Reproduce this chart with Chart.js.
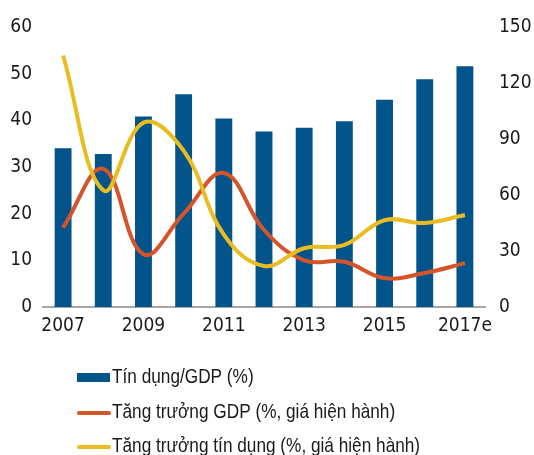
<!DOCTYPE html>
<html>
<head>
<meta charset="utf-8">
<script src="https://cdn.jsdelivr.net/npm/chart.js@4"></script>
<style>
  body { margin: 0; background: #fff; }
  #chart { display: block; }
</style>
</head>
<body>
<canvas id="chart" width="534" height="455"></canvas>
<script>
const years = ["2007", "2008", "2009", "2010", "2011", "2012", "2013", "2014", "2015", "2016", "2017e"];
const creditToGdp = [85, 82, 102, 114, 101, 94, 96, 99.5, 111, 122, 129];
const gdpGrowth = [17, 29.6, 11.3, 20, 28.7, 16.5, 10, 9.7, 6.2, 7.3, 9.4];
const creditGrowth = [53.9, 25, 39.5, 33.5, 15.5, 8.8, 12.6, 13.3, 18.6, 18, 19.7];

const leftTicks = [0, 10, 20, 30, 40, 50, 60];
const rightTicks = [0, 30, 60, 90, 120, 150];

const blue = "#02548b";
const orange = "#d6542a";
const yellow = "#e9bd22";
const textColor = "#1a1a1a";
const tickFont = "'DejaVu Sans Condensed', 'Liberation Sans', sans-serif";
const legendFont = "'Liberation Sans', Arial, sans-serif";

const chartCanvas = document.getElementById("chart");

// legend drawn as a vertical list below the axis (text squeezed like a narrow face)
const stackedLegend = {
  id: "stackedLegend",
  afterDraw(chart) {
    const { ctx } = chart;
    const rows = [377, 412, 446];
    ctx.save();
    chart.data.datasets.forEach((ds, i) => {
      const y = rows[i];
      if (ds.type === "bar") {
        ctx.fillStyle = ds.backgroundColor;
        ctx.fillRect(77, y - 4, 33, 9);
      } else {
        ctx.strokeStyle = ds.borderColor;
        ctx.lineWidth = 4;
        ctx.lineCap = "round";
        ctx.beginPath();
        ctx.moveTo(79, y + 1);
        ctx.lineTo(109, y + 1);
        ctx.stroke();
      }
      ctx.save();
      ctx.translate(112, y);
      ctx.scale(0.82, 1);
      ctx.font = "21px " + legendFont;
      ctx.textBaseline = "middle";
      ctx.fillStyle = textColor;
      ctx.fillText(ds.label, 0, 0);
      ctx.restore();
    });
    ctx.restore();
  },
};

new Chart(chartCanvas, {
  data: {
    labels: years,
    datasets: [
      {
        type: "bar",
        label: "Tín dụng/GDP (%)",
        data: creditToGdp,
        backgroundColor: blue,
        yAxisID: "y1",
        barPercentage: 0.84,
        categoryPercentage: 0.5,
        order: 3,
      },
      {
        type: "line",
        label: "Tăng trưởng GDP (%, giá hiện hành)",
        data: gdpGrowth,
        borderColor: orange,
        backgroundColor: orange,
        borderWidth: 4,
        pointRadius: 0,
        tension: 0.4,
        yAxisID: "y",
        order: 2,
      },
      {
        type: "line",
        label: "Tăng trưởng tín dụng (%, giá hiện hành)",
        data: creditGrowth,
        borderColor: yellow,
        backgroundColor: yellow,
        borderWidth: 4,
        pointRadius: 0,
        tension: 0.4,
        yAxisID: "y",
        order: 1,
      },
    ],
  },
  options: {
    responsive: false,
    animation: false,
    layout: { padding: { top: 27, left: 0, right: 0, bottom: 0 } },
    plugins: {
      legend: { display: false },
      tooltip: { enabled: false },
    },
    scales: {
      x: {
        grid: { display: false, drawTicks: false },
        border: { display: true, color: "#a6a6a6", width: 2 },
        ticks: {
          autoSkip: false,
          maxRotation: 0,
          padding: 8,
          color: textColor,
          font: { family: tickFont, size: 19 },
          callback: (value, index) => (index % 2 === 0 ? years[index] : ""),
        },
        afterFit: (scale) => {
          scale.height = 148;
        },
      },
      y: {
        position: "left",
        min: 0,
        max: 60,
        grid: { display: false, drawTicks: false },
        border: { display: false },
        afterBuildTicks: (scale) => {
          scale.ticks = leftTicks.map((v) => ({ value: v }));
        },
        ticks: {
          padding: 11,
          color: textColor,
          font: { family: tickFont, size: 19 },
        },
        afterFit: (scale) => {
          scale.width = 43;
        },
      },
      y1: {
        position: "right",
        min: 0,
        max: 150,
        grid: { display: false, drawTicks: false },
        border: { display: false },
        afterBuildTicks: (scale) => {
          scale.ticks = rightTicks.map((v) => ({ value: v }));
        },
        ticks: {
          padding: 14,
          color: textColor,
          font: { family: tickFont, size: 19 },
        },
        afterFit: (scale) => {
          scale.width = 49;
        },
      },
    },
  },
  plugins: [stackedLegend],
});
</script>
</body>
</html>
